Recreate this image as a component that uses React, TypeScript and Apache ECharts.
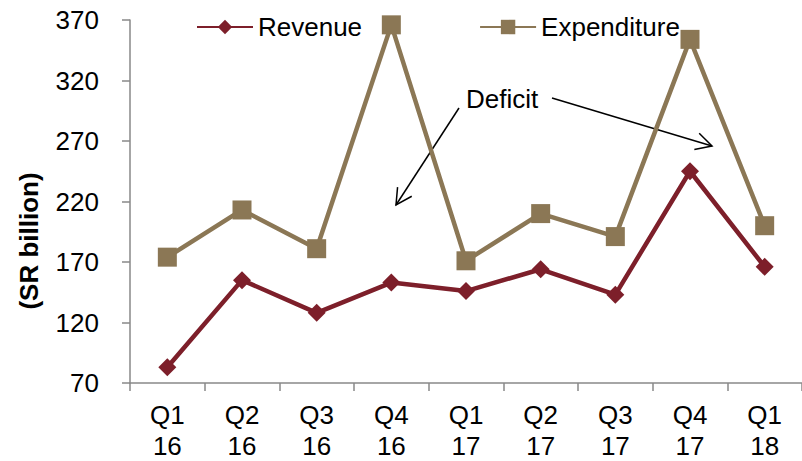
import React, { useEffect, useRef } from "react";
import * as echarts from "echarts";

const categories = ["Q1\n16", "Q2\n16", "Q3\n16", "Q4\n16", "Q1\n17", "Q2\n17", "Q3\n17", "Q4\n17", "Q1\n18"];
const revenue = [83, 155, 128, 153, 146, 164, 143, 245, 166];
const expenditure = [174, 213, 181, 366, 171, 210, 191, 354, 200];
const yMin = 70;
const yMax = 370;
const yInterval = 50;
const seriesNames = ["Revenue", "Expenditure"];
const yTitle = "(SR billion)";
const annotationText = "Deficit";

const FONT = "'Liberation Sans', Arial, sans-serif";
const REV_COLOR = "#7D1F2A";
const EXP_COLOR = "#8B7755";

function arrow(x1: number, y1: number, x2: number, y2: number) {
  const len = 18;
  const ang = (28 * Math.PI) / 180;
  const dx = x1 - x2;
  const dy = y1 - y2;
  const d = Math.sqrt(dx * dx + dy * dy);
  const ux = dx / d;
  const uy = dy / d;
  const rot = (a: number) => [
    x2 + len * (ux * Math.cos(a) - uy * Math.sin(a)),
    y2 + len * (ux * Math.sin(a) + uy * Math.cos(a)),
  ];
  const s = { stroke: "#000", lineWidth: 1.5, fill: null };
  return [
    { type: "line", shape: { x1, y1, x2, y2 }, style: s, silent: true },
    { type: "polyline", shape: { points: [rot(ang), [x2, y2], rot(-ang)] }, style: s, silent: true },
  ];
}

export default function App() {
  const ref = useRef<HTMLDivElement>(null);
  useEffect(() => {
    document.body.style.margin = "0";
    if (!ref.current) return;
    const chart = echarts.init(ref.current, null, { renderer: "svg" });
    chart.setOption({
      animation: false,
      backgroundColor: "#fff",
      textStyle: { fontFamily: FONT },
      grid: { left: 130, top: 20, width: 675, bottom: 75.5, containLabel: false },
      legend: {
        left: 196,
        top: 14,
        padding: 0,
        itemWidth: 56,
        itemHeight: 18,
        itemGap: 117,
        textStyle: { fontSize: 26, color: "#000", fontFamily: FONT },
        data: seriesNames,
      },
      xAxis: {
        type: "category",
        data: categories,
        boundaryGap: true,
        axisLine: { lineStyle: { color: "#898989", width: 1.5 } },
        axisTick: { show: true, length: 8, alignWithLabel: false, lineStyle: { color: "#898989", width: 1.5 } },
        axisLabel: { color: "#000", fontSize: 26, lineHeight: 31, margin: 16, fontFamily: FONT, interval: 0 },
        splitLine: { show: false },
      },
      yAxis: {
        type: "value",
        min: yMin,
        max: yMax,
        interval: yInterval,
        axisLine: { show: true, lineStyle: { color: "#898989", width: 1.5 } },
        axisTick: { show: true, length: 8, lineStyle: { color: "#898989", width: 1.5 } },
        axisLabel: { color: "#000", fontSize: 26, margin: 31, fontFamily: FONT },
        splitLine: { show: false },
      },
      series: [
        {
          name: seriesNames[0],
          type: "line",
          data: revenue,
          symbol: "diamond",
          symbolSize: [18, 18],
          color: REV_COLOR,
          lineStyle: { color: REV_COLOR, width: 4.5 },
          itemStyle: { color: REV_COLOR },
          z: 3,
        },
        {
          name: seriesNames[1],
          type: "line",
          data: expenditure,
          symbol: "rect",
          symbolSize: 19,
          color: EXP_COLOR,
          lineStyle: { color: EXP_COLOR, width: 4.5 },
          itemStyle: { color: EXP_COLOR },
          z: 2,
        },
      ],
      graphic: [
        {
          type: "text",
          x: 28.5,
          y: 241,
          rotation: Math.PI / 2,
          style: {
            text: yTitle,
            fontSize: 26,
            fontWeight: "bold",
            fill: "#000",
            fontFamily: FONT,
            align: "center",
            verticalAlign: "middle",
          },
        },
        {
          type: "text",
          left: 466,
          top: 86,
          style: { text: annotationText, fontSize: 26, fill: "#000", fontFamily: FONT },
          z: 10,
        },
        ...arrow(459, 108, 396, 205),
        ...arrow(552, 98, 712, 146),
      ],
    });
    return () => chart.dispose();
  }, []);
  return <div ref={ref} style={{ width: 802, height: 461 }} />;
}
